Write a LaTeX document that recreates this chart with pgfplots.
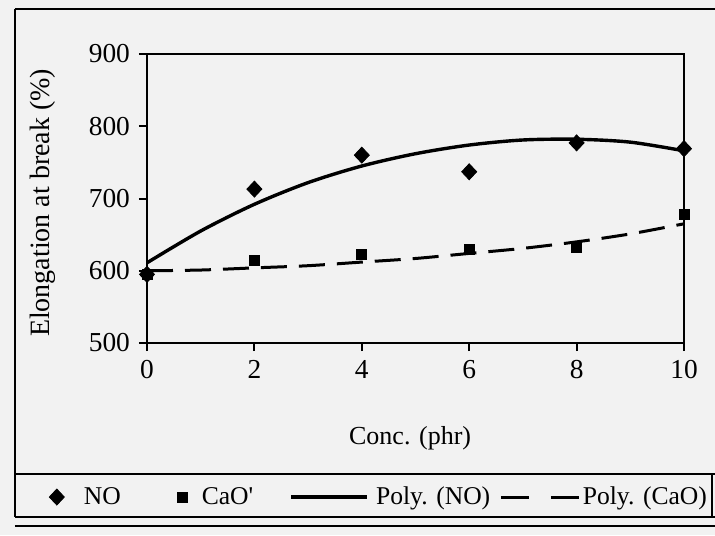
\documentclass[border=0pt]{standalone}
\usepackage{fontspec}
\setmainfont{Liberation Serif}
\usepackage{pgfplots}
\pgfplotsset{compat=1.18}
% legend images with fixed extents, so the entries sit where the scan has them
\pgfplotsset{
  legmark/.style 2 args={legend image code/.code={%
    \path[draw=none, fill=none] (-#1,0pt) -- (#2,0pt);
    \draw[mark repeat=1,mark phase=1,##1] plot coordinates {(0pt,0pt)};}},
  legline/.style 2 args={legend image code/.code={%
    \path[draw=none, fill=none] (0pt,0pt) -- (#2,0pt);
    \draw[##1] (0pt,0pt) -- (#1,0pt);}},
}

\begin{document}
\begin{tikzpicture}
% page and frame (half-scale of the 715x535 scan, axis origin at the 0/500 corner)
\fill[black!5] (-73.5pt,-96pt) rectangle (284pt,171.5pt);
\path[use as bounding box] (-73.5pt,-96pt) rectangle (284pt,171.5pt);
\draw[line width=1pt] (-66pt,167pt) -- (284pt,167pt);
\draw[line width=1pt] (-66pt,167pt) -- (-66pt,-87pt);
\draw[line width=1pt] (-66pt,-65.5pt) -- (284pt,-65.5pt);
\draw[line width=1pt] (-66pt,-87pt) -- (284pt,-87pt);
\draw[line width=0.8pt] (-66pt,-91.5pt) -- (284pt,-91.5pt);
\draw[line width=1pt] (282.5pt,-65.5pt) -- (282.5pt,-87pt);

\begin{axis}[
  at={(0pt,0pt)}, anchor=south west,
  width=268.5pt, height=144.5pt, scale only axis,
  xmin=0, xmax=10, ymin=500, ymax=900,
  xtick={0,2,...,10}, ytick={500,600,...,900},
  tick pos=left, tick align=outside, major tick length=4pt,
  axis line style={line width=1pt},
  every tick/.style={black, line width=1pt},
  /pgf/number format/assume math mode=true,
  tick label style={font=\fontsize{13.7}{16}\selectfont},
  yticklabel style={xshift=-1pt},
  xticklabel style={yshift=-1pt},
  xlabel={Conc. (phr)}, ylabel={Elongation at break (\%)},
  xlabel style={font=\fontsize{13}{15}\selectfont,
    at={(axis description cs:0.49,-0.33)}, anchor=center},
  ylabel style={font=\fontsize{14}{16}\selectfont,
    at={(axis description cs:-0.194,0.485)}, anchor=center},
  clip=false,
  legend columns=4,
  legend style={at={(0.43,-0.533)}, anchor=center, draw=none, fill=none,
    font=\fontsize{12.8}{15}\selectfont,
    nodes={inner xsep=0pt}, column sep=0pt},
]
% polynomial trend lines
\addplot[black, line width=1.7pt, smooth, forget plot] coordinates {
  (0,611) (1,655) (2,692) (3,722) (4,745) (5,762) (6,774) (7,781) (8,782) (9,778) (10,766)};
\addplot[black, line width=1.5pt, dash pattern=on 13pt off 6pt, smooth, forget plot] coordinates {
  (0,600) (1,601) (2,604) (3,607) (4,612) (5,617) (6,624) (7,631) (8,640) (9,651) (10,665)};
% measured points
\addplot[only marks, mark=diamond*, mark size=4pt, mark options={xscale=1.25}, black,
  legmark={4pt}{13.5pt}] coordinates {
  (0,595) (2,713) (4,760) (6,737) (8,777) (10,769)};
\addplot[only marks, mark=square*, mark size=2.5pt, black, legmark={3pt}{9.5pt}] coordinates {
  (0,595) (2,615) (4,622) (6,629) (8,632) (10,678)};
\addlegendimage{black, line width=1.7pt, legline={38pt}{42.5pt}}
\addlegendimage{black, line width=1.5pt, dash pattern=on 14pt off 11pt, legline={39pt}{41pt}}
\legend{NO\hspace*{28pt}, CaO\textquotesingle\hspace*{18pt}, Poly. (NO)\hspace*{4.5pt}, Poly. (CaO)}
% plot-area frame on top and right
\draw[line width=1pt] (rel axis cs:0,1) -- (rel axis cs:1,1) -- (rel axis cs:1,0);
\end{axis}
\end{tikzpicture}
\end{document}
